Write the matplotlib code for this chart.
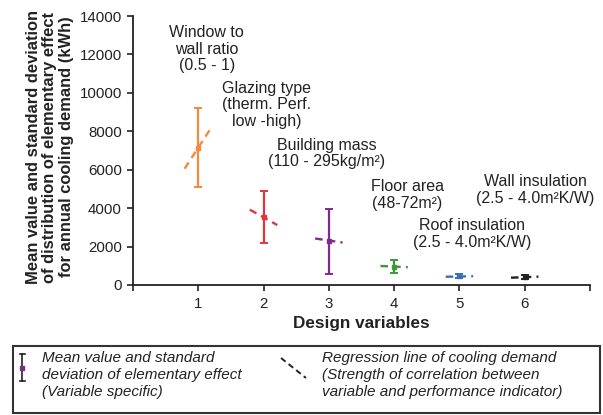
import matplotlib
matplotlib.use("Agg")
import matplotlib.pyplot as plt
from matplotlib.patches import Rectangle
from matplotlib.lines import Line2D

plt.rcParams['font.family'] = ['Liberation Sans', 'DejaVu Sans']

# ---- data ----
variables = [1, 2, 3, 4, 5, 6]
means = [7150, 3550, 2280, 950, 460, 420]
stds = [2070, 1340, 1690, 330, 100, 110]
reg_left = [6050, 3920, 2420, 990, 430, 380]    # regression line value at x-0.21
reg_right = [8250, 3120, 2210, 925, 455, 435]   # regression line value at x+0.21
colors = ['#F58A3C', '#E0353F', '#7E2C8C', '#3A9A3A', '#3B6CC0', '#222222']
labels = ["Window to\nwall ratio\n(0.5 - 1)",
          "Glazing type\n(therm. Perf.\nlow -high)",
          "Building mass\n(110 - 295kg/m²)",
          "Floor area\n(48-72m²)",
          "Roof insulation\n(2.5 - 4.0m²K/W)",
          "Wall insulation\n(2.5 - 4.0m²K/W)"]
label_pos = [(1.13, 12280), (2.05, 9370), (2.97, 6845), (4.2, 4685),
             (5.19, 2655), (6.16, 4945)]
yticks = [0, 2000, 4000, 6000, 8000, 10000, 12000, 14000]

W, H = 603, 415
fig = plt.figure(figsize=(W / 100, H / 100), dpi=100)
ax = fig.add_axes([133 / W, (H - 285) / H, (590 - 133) / W, (285 - 16) / H])

for x, m, s, l, r, c in zip(variables, means, stds, reg_left, reg_right, colors):
    ax.errorbar([x], [m], yerr=[s], fmt='s', ms=2.5, color=c, ecolor=c,
                elinewidth=1.6, capsize=2.7, capthick=1.4, zorder=3)
    ax.plot([x - 0.21, x + 0.21], [l, r], color=c, lw=1.7,
            linestyle=(0, (3.2, 2.2)), zorder=4)

for (tx, ty), t in zip(label_pos, labels):
    ax.text(tx, ty, t, ha='center', va='center', fontsize=11.5,
            color='#222222', linespacing=1.1, clip_on=False)

ax.set_xlim(0, 7)
ax.set_ylim(0, 14000)
ax.set_xticks(range(0, 8))
ax.set_xticklabels(['', '1', '2', '3', '4', '5', '6', ''])
ax.set_yticks(yticks)
ax.set_yticklabels([str(v) for v in yticks])
ax.tick_params(axis='both', labelsize=10.8, colors='#222222', length=4,
               width=1.2, direction='out', pad=4)
ax.tick_params(axis='x', pad=5)
for sp in ['top', 'right']:
    ax.spines[sp].set_visible(False)
for sp in ['left', 'bottom']:
    ax.spines[sp].set_linewidth(1.3)
    ax.spines[sp].set_color('#222222')

ax.set_xlabel('Design variables', fontsize=12.3, fontweight='bold',
              color='#222222', labelpad=3)
fig.text(50 / W, 1 - 147 / H,
         "Mean value and standard deviation\nof distribution of elementary effect\nfor annual cooling demand (kWh)",
         rotation=90, ha='center', va='center', fontsize=11.9,
         fontweight='bold', color='#222222', linespacing=1.1)

# ---- legend box (pixel coordinates) ----
lg = fig.add_axes([0, 0, 1, 1], zorder=-1)
lg.set_xlim(0, W)
lg.set_ylim(H, 0)
lg.axis('off')
lg.add_patch(Rectangle((13, 346), 587, 67, fill=False, lw=1.5,
                       edgecolor='#333333'))
# errorbar icon
lg.add_line(Line2D([22, 22], [354, 381], color='#222222', lw=1.2))
lg.add_line(Line2D([19.5, 24.5], [354, 354], color='#222222', lw=1.2))
lg.add_line(Line2D([19.5, 24.5], [381, 381], color='#222222', lw=1.2))
lg.plot([22], [368], 's', ms=2.5, color='#7E2C8C')
# regression icon
lg.add_line(Line2D([281, 306], [358, 378], color='#222222', lw=1.4,
                   linestyle=(0, (3, 2))))
lg.text(42, 375, "Mean value and standard\ndeviation of elementary effect\n(Variable specific)",
        ha='left', va='center', fontsize=11, style='italic',
        color='#222222', linespacing=1.3)
lg.text(322, 375, "Regression line of cooling demand\n(Strength of correlation between\nvariable and performance indicator)",
        ha='left', va='center', fontsize=11, style='italic',
        color='#222222', linespacing=1.3)

fig.savefig('out.png', dpi=100)
